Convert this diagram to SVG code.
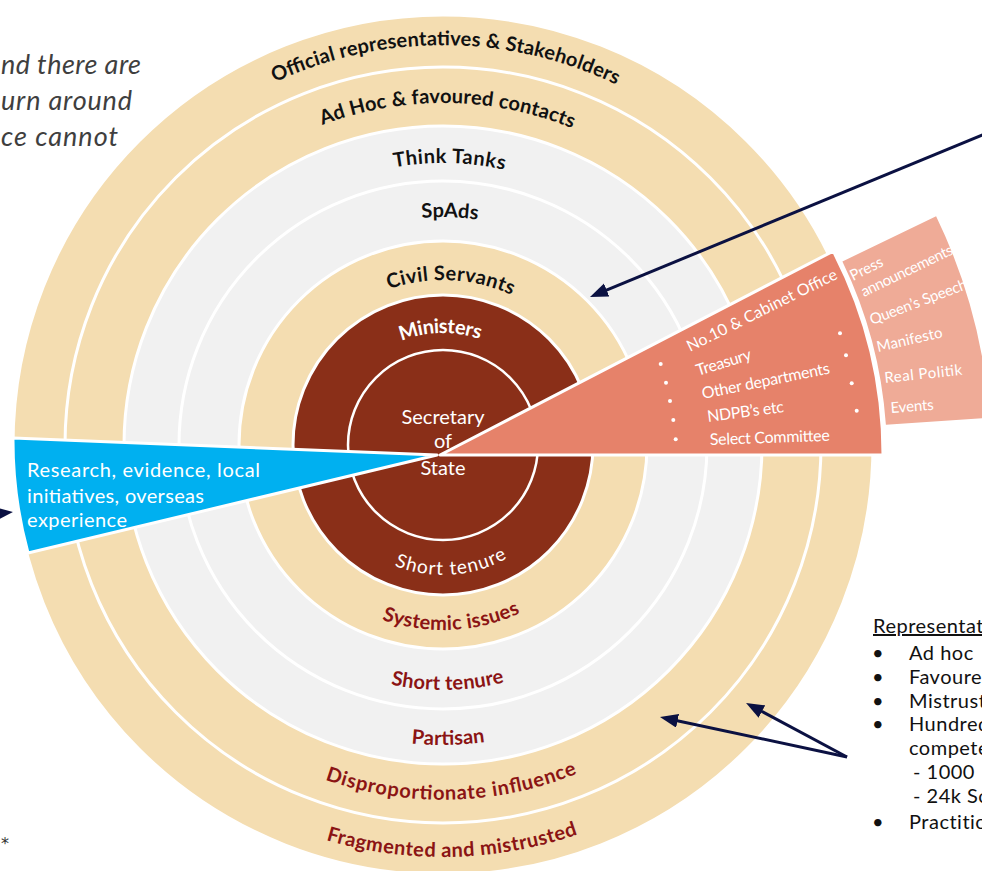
<svg xmlns="http://www.w3.org/2000/svg" width="982" height="871" viewBox="0 0 982 871">
<style>
.tan{fill:#F4DDB1;stroke:#fff;stroke-width:3}
.gray{fill:#F1F1F1;stroke:#fff;stroke-width:3}
.dark{fill:#8A2F18;stroke:#fff;stroke-width:3}
.f{font-family:Lato,"Open Sans","DejaVu Sans",sans-serif}
.lbl{font-family:Lato,"Open Sans","DejaVu Sans",sans-serif;font-weight:bold;font-size:20px;fill:#111}
.lblr{font-family:Lato,"Open Sans","DejaVu Sans",sans-serif;font-weight:bold;font-size:20px;fill:#8B1414}
.wt{font-family:Lato,"Open Sans","DejaVu Sans",sans-serif;fill:#fff}
.body{font-family:Lato,"Open Sans","DejaVu Sans",sans-serif;font-size:20px;fill:#111;letter-spacing:0.5px}
.conn{stroke:#0B1142;stroke-width:3;fill:none;marker-end:url(#ah)}
.dot{fill:#fff}
</style>
<defs>
<marker id="ah" markerUnits="userSpaceOnUse" markerWidth="20" markerHeight="16" refX="10" refY="7" orient="auto">
<path d="M0,0 L18,7 L0,14 Z" fill="#0B1142"/>
</marker>
<path id="t400" d="M43,445 A400,400 0 0 1 843,445"/>
<path id="t342" d="M101,445 A342,342 0 0 1 785,445"/>
<path id="t282" d="M161,445 A282,282 0 0 1 725,445"/>
<path id="t228" d="M215,445 A228,228 0 0 1 671,445"/>
<path id="t165" d="M278,445 A165,165 0 0 1 608,445"/>
<path id="t112" d="M331,445 A112,112 0 0 1 555,445"/>
<path id="b130" d="M313,445 A130,130 0 0 0 573,445"/>
<path id="b185" d="M258,445 A185,185 0 0 0 628,445"/>
<path id="b245" d="M198,445 A245,245 0 0 0 688,445"/>
<path id="b300" d="M143,445 A300,300 0 0 0 743,445"/>
<path id="b355" d="M88,445 A355,355 0 0 0 798,445"/>
<path id="b412" d="M31,445 A412,412 0 0 0 855,445"/>
</defs>

<g id="side-text-left" class="f" font-style="italic" font-size="27" fill="#3f3f3f">
<text x="1" y="74" textLength="140" lengthAdjust="spacing">nd there are</text>
<text x="1" y="110" textLength="131" lengthAdjust="spacing">urn around</text>
<text x="1" y="146" textLength="117" lengthAdjust="spacing">ce cannot</text>
</g>
<text id="asterisk" x="1" y="849" font-family="'DejaVu Sans',sans-serif" font-size="16" fill="#333">*</text>

<g id="rings">
<circle id="ring-official" class="tan" cx="443" cy="445" r="430"/>
<circle id="ring-adhoc" class="tan" cx="443" cy="445" r="378"/>
<circle id="ring-thinktanks" class="gray" cx="443" cy="445" r="319"/>
<circle id="ring-spads" class="gray" cx="443" cy="445" r="264"/>
<circle id="ring-civil" class="tan" cx="443" cy="445" r="204"/>
<circle id="ring-ministers" class="dark" cx="443" cy="445" r="150"/>
<circle id="ring-sos" fill="#8A2F18" stroke="#fff" stroke-width="2.5" cx="443" cy="445" r="95"/>
</g>

<g id="wedge-blue">
<path d="M437,455 L13,438 A430,430 0 0 0 28,553 Z" fill="#00B0F0" stroke="#fff" stroke-width="3" stroke-linejoin="round"/>
<g class="wt" font-size="20">
<text x="27" y="477" textLength="233" lengthAdjust="spacing">Research, evidence, local</text>
<text x="27" y="503" textLength="177" lengthAdjust="spacing">initiatives, overseas</text>
<text x="27" y="527" textLength="100" lengthAdjust="spacing">experience</text>
</g>
</g>

<g id="wedge-orange">
<path d="M440,455 L883,455 A443,443 0 0 0 833.3,251.1 Z" fill="#E6826A" stroke="#fff" stroke-width="3" stroke-linejoin="round"/>
<g class="wt" font-size="16">
<text transform="translate(690,352) rotate(-26.4)" textLength="166" lengthAdjust="spacing">No.10 &amp; Cabinet Office</text>
<text transform="translate(698,376) rotate(-17.2)" textLength="57" lengthAdjust="spacing">Treasury</text>
<text transform="translate(703,399) rotate(-11.4)" textLength="130" lengthAdjust="spacing">Other departments</text>
<text transform="translate(708,422) rotate(-7.4)" textLength="77" lengthAdjust="spacing">NDPB’s etc</text>
<text transform="translate(710,445) rotate(-2)" textLength="120" lengthAdjust="spacing">Select Committee</text>
</g>
<circle class="dot" cx="660.7" cy="364" r="2"/>
<circle class="dot" cx="666" cy="382.7" r="2"/>
<circle class="dot" cx="670" cy="401" r="2"/>
<circle class="dot" cx="673.3" cy="420" r="2"/>
<circle class="dot" cx="675.7" cy="439.3" r="2"/>
<circle class="dot" cx="840" cy="333.3" r="2"/>
<circle class="dot" cx="846" cy="355.3" r="2"/>
<circle class="dot" cx="851.7" cy="383.3" r="2"/>
<circle class="dot" cx="856.7" cy="410.7" r="2"/>
</g>

<g id="wedge-light">
<path d="M842.4,261.5 L936.1,216.2 A551,551 0 0 1 989.7,417.6 L885.9,424.8 A447,447 0 0 0 842.4,261.5 Z" fill="#EFAB97"/>
<g class="wt" font-size="15">
<text transform="translate(853,281) rotate(-26.5)">Press</text>
<text transform="translate(864,297) rotate(-25.7)" textLength="100" lengthAdjust="spacing">announcements</text>
<text transform="translate(872,325) rotate(-20.8)" textLength="103" lengthAdjust="spacing">Queen’s Speech</text>
<text transform="translate(878,352) rotate(-12.9)" textLength="67" lengthAdjust="spacing">Manifesto</text>
<text transform="translate(885,383) rotate(-6.1)" textLength="78" lengthAdjust="spacing">Real Politik</text>
<text transform="translate(891,413) rotate(-4.4)" textLength="43" lengthAdjust="spacing">Events</text>
</g>
</g>

<g id="ring-labels-top" text-anchor="middle">
<text class="lbl" transform="rotate(0.4 443 445)"><textPath href="#t400" startOffset="50%" textLength="353" lengthAdjust="spacing">Official representatives &amp; Stakeholders</textPath></text>
<text class="lbl" transform="rotate(0.75 443 445)"><textPath href="#t342" startOffset="50%" textLength="256" lengthAdjust="spacing">Ad Hoc &amp; favoured contacts</textPath></text>
<text class="lbl" transform="rotate(1.3 443 445)"><textPath href="#t282" startOffset="50%" textLength="111" lengthAdjust="spacing">Think Tanks</textPath></text>
<text class="lbl" transform="rotate(1.7 443 445)"><textPath href="#t228" startOffset="50%" textLength="56" lengthAdjust="spacing">SpAds</textPath></text>
<text class="lbl" transform="rotate(2.7 443 445)"><textPath href="#t165" startOffset="50%" textLength="126" lengthAdjust="spacing">Civil Servants</textPath></text>
<text class="lbl" style="fill:#fff" transform="rotate(-1.4 443 445)"><textPath href="#t112" startOffset="50%" textLength="80" lengthAdjust="spacing">Ministers</textPath></text>
</g>

<g id="ring-labels-bottom" text-anchor="middle">
<text class="wt" font-size="19" transform="rotate(-3.8 443 445)"><textPath href="#b130" startOffset="50%" textLength="117" lengthAdjust="spacing">Short tenure</textPath></text>
<text class="lblr" transform="rotate(-2.7 443 445)"><textPath href="#b185" startOffset="50%" textLength="142" lengthAdjust="spacing">Systemic issues</textPath></text>
<text class="lblr" transform="rotate(-1.1 443 445)"><textPath href="#b245" startOffset="50%" textLength="115" lengthAdjust="spacing">Short tenure</textPath></text>
<text class="lblr" transform="rotate(-1 443 445)"><textPath href="#b300" startOffset="50%" textLength="74" lengthAdjust="spacing">Partisan</textPath></text>
<text class="lblr" transform="rotate(-1.4 443 445)"><textPath href="#b355" startOffset="50%" textLength="258" lengthAdjust="spacing">Disproportionate influence</textPath></text>
<text class="lblr" transform="rotate(-1.3 443 445)"><textPath href="#b412" startOffset="50%" textLength="256" lengthAdjust="spacing">Fragmented and mistrusted</textPath></text>
</g>

<g id="node-sos" class="wt" font-size="20" text-anchor="middle">
<text x="443" y="424">Secretary</text>
<text x="443" y="448">of</text>
<text x="443" y="475">State</text>
</g>

<g id="side-text-right" class="body">
<text x="873" y="633" text-decoration="underline">Representat</text>
<text x="872" y="660">•</text><text x="909" y="660">Ad hoc</text>
<text x="872" y="684">•</text><text x="909" y="684">Favoure</text>
<text x="872" y="708">•</text><text x="909" y="708">Mistrust</text>
<text x="872" y="731">•</text><text x="909" y="731">Hundred</text>
<text x="909" y="755">compete</text>
<text x="913" y="779">- 1000</text>
<text x="913" y="803">- 24k Sc</text>
<text x="872" y="829">•</text><text x="909" y="829">Practitio</text>
</g>

<g id="connectors">
<line class="conn" x1="1000" y1="127.6" x2="597.4" y2="293.9"/>
<line class="conn" x1="-60" y1="519.6" x2="5" y2="512.8"/>
<line class="conn" x1="847" y1="757" x2="667.8" y2="718.7"/>
<line class="conn" x1="847" y1="757" x2="753.1" y2="706.8"/>
</g>
</svg>
